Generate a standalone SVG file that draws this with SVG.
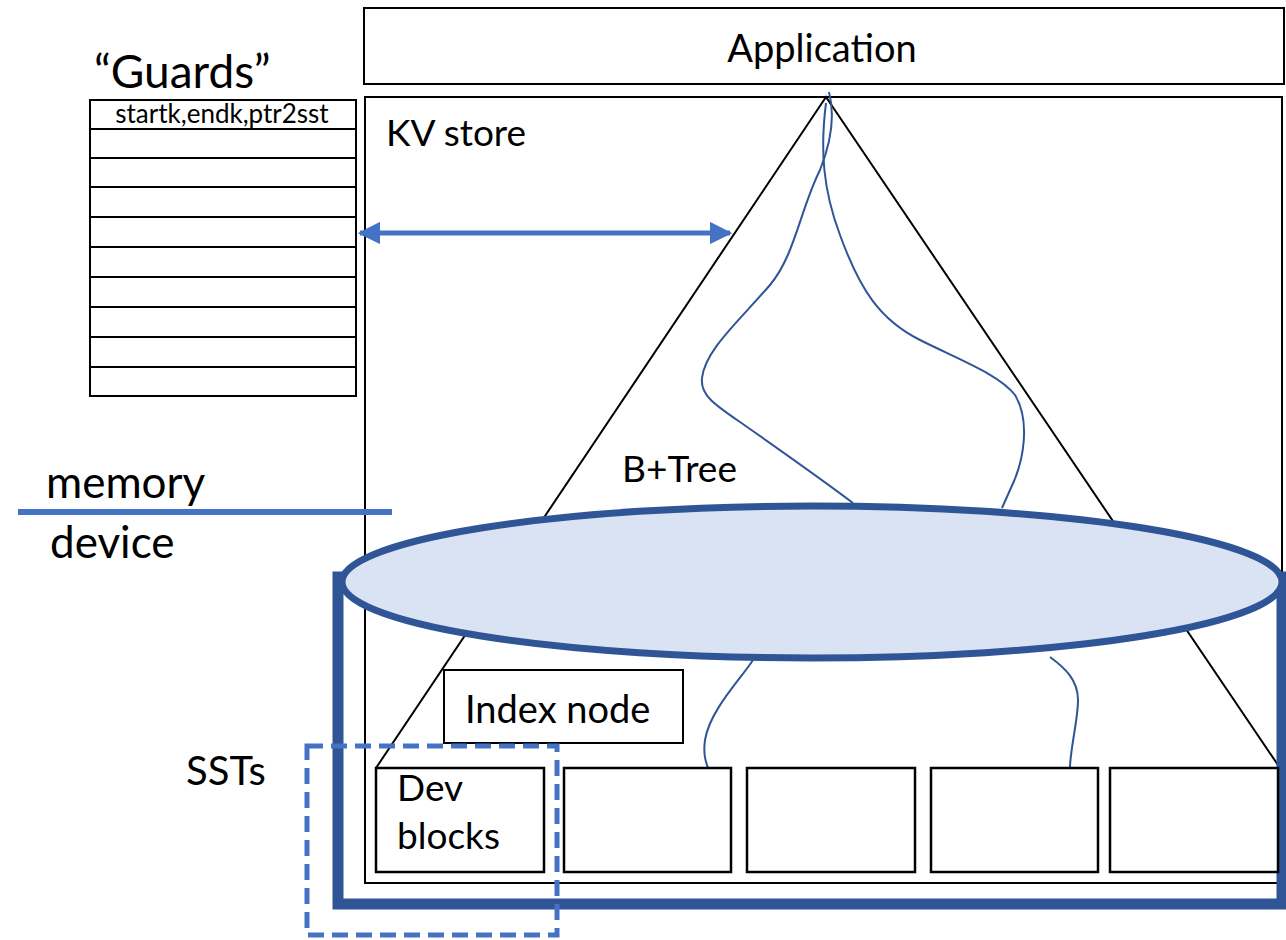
<svg xmlns="http://www.w3.org/2000/svg" width="1286" height="940" viewBox="0 0 1286 940">
<style>
text{font-family:Lato,"Open Sans","Liberation Sans",sans-serif;fill:#000}
.box{fill:#fff;stroke:#000;stroke-width:2}
.thin{fill:none;stroke:#000;stroke-width:2}
.path{fill:none;stroke:#2f5597;stroke-width:2}
.blk{fill:#fff;stroke:#000;stroke-width:2.5}
</style>
<defs>
<marker id="ah" viewBox="0 0 10 10" refX="9" refY="5" markerWidth="4.5" markerHeight="4.5" orient="auto-start-reverse" markerUnits="strokeWidth">
<path d="M0,0 L10,5 L0,10 z" fill="#4472c4"/>
</marker>
</defs>
<g id="application"><rect class="box" x="364" y="8" width="920" height="76"/><text x="822" y="62" font-size="38" text-anchor="middle">Application</text></g>
<g id="kvstore"><rect class="box" x="365" y="97" width="917" height="786"/><text x="386" y="146" font-size="37">KV store</text></g>
<g id="btree"><polyline class="thin" points="376,768 826,97 1280,768"/><text x="622" y="482" font-size="37">B+Tree</text></g>
<g id="guards">
<text x="94" y="88" font-size="46">“Guards”</text>
<rect class="box" x="90" y="100" width="266" height="296"/>
<path class="thin" d="M90 129H356M90 158H356M90 187H356M90 217H356M90 247H356M90 277H356M90 307H356M90 337H356M90 367H356"/>
<text x="222" y="123" font-size="26" text-anchor="middle">startk,endk,ptr2sst</text>
</g>
<g id="memline"><line x1="18" y1="512" x2="392" y2="512" stroke="#4472c4" stroke-width="6"/><text x="46" y="498" font-size="44">memory</text><text x="50" y="558" font-size="44">device</text></g>
<g id="connectors">
<line x1="360" y1="233" x2="730" y2="233" stroke="#4472c4" stroke-width="5" marker-start="url(#ah)" marker-end="url(#ah)"/>
<path class="path" d="M829 92 C835 115,832 140,820 170 C800 210,795 255,770 285 C740 320,705 350,702 378 C700 395,715 405,740 422 C780 450,820 478,853 503"/>
<path class="path" d="M826 103 C820 150,823 190,840 235 C860 290,880 320,920 340 C960 360,1000 375,1015 395 C1030 420,1025 460,1010 490 L1002 508"/>
</g>
<g id="sst-frame"><rect x="338" y="577" width="944" height="327" fill="none" stroke="#2f5597" stroke-width="11"/></g>
<g id="memtable"><ellipse cx="812" cy="582" rx="470" ry="76" fill="#dae3f3" stroke="#2f5597" stroke-width="7"/></g>
<g id="lower-paths">
<path class="path" d="M753 660 C740 680,710 710,705 740 C703 755,706 762,708 768"/>
<path class="path" d="M1050 657 C1065 668,1078 680,1078 700 C1078 720,1070 750,1070 768"/>
</g>
<g id="indexnode"><rect class="box" x="444" y="670" width="239" height="73"/><text x="465" y="723" font-size="38">Index node</text></g>
<g id="blocks">
<rect class="blk" x="376" y="768" width="168" height="104"/>
<rect class="blk" x="564" y="768" width="167" height="104"/>
<rect class="blk" x="747" y="768" width="168" height="104"/>
<rect class="blk" x="931" y="768" width="167" height="104"/>
<rect class="blk" x="1110" y="768" width="168" height="104"/>
<text x="397" y="801" font-size="37">Dev</text><text x="397" y="849" font-size="37">blocks</text>
</g>
<g id="ssts"><rect x="307" y="746" width="250" height="189" fill="none" stroke="#4472c4" stroke-width="5" stroke-dasharray="16 8"/><text x="186" y="785" font-size="40">SSTs</text></g>
</svg>
